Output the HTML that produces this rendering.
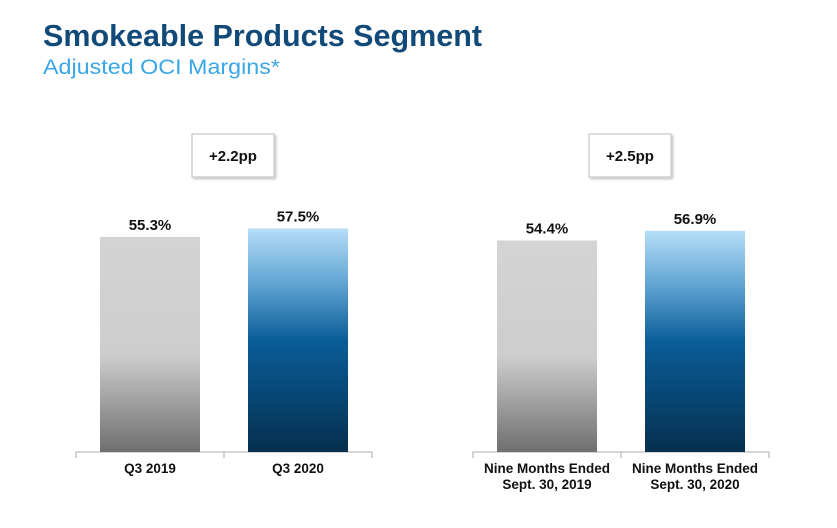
<!DOCTYPE html>
<html><head><meta charset="utf-8"><style>
body{margin:0;width:837px;height:523px;background:#fff;overflow:hidden;font-family:"Liberation Sans",Arial,sans-serif;}
</style></head><body>
<svg width="837" height="523" viewBox="0 0 837 523">
<defs>
<linearGradient id="gGray" x1="0" y1="0" x2="0" y2="1">
<stop offset="0" stop-color="#d4d4d4"/><stop offset="0.55" stop-color="#cdcdcd"/><stop offset="1" stop-color="#6f6f6f"/>
</linearGradient>
<linearGradient id="gBlue" x1="0" y1="0" x2="0" y2="1">
<stop offset="0" stop-color="#b6def8"/><stop offset="0.25" stop-color="#5fa3d2"/><stop offset="0.5" stop-color="#0a5d99"/><stop offset="1" stop-color="#06304f"/>
</linearGradient>
<filter id="sh" x="-20%" y="-20%" width="140%" height="140%"><feDropShadow dx="1.5" dy="1.5" stdDeviation="1.2" flood-color="#000" flood-opacity="0.25"/></filter>
</defs>
<text x="43" y="46" font-size="30.5" font-weight="bold" fill="#114a78" textLength="439" lengthAdjust="spacingAndGlyphs">Smokeable Products Segment</text>
<text x="43" y="74" font-size="21.5" fill="#3aa6e6" textLength="237" lengthAdjust="spacingAndGlyphs">Adjusted OCI Margins*</text>
<g id="plots"></g>
</svg>
<script>
const categoriesLeft = ["Q3 2019", "Q3 2020"];
const valuesLeft = [55.3, 57.5];
const categoriesRight = [["Nine Months Ended","Sept. 30, 2019"], ["Nine Months Ended","Sept. 30, 2020"]];
const valuesRight = [54.4, 56.9];
const changeLabels = ["+2.2pp", "+2.5pp"];

const NS = "http://www.w3.org/2000/svg";
const g = document.getElementById("plots");
const baseY = 452, pxPer = 3.888;
function yScale(v){ return baseY - v * pxPer; }
function mk(tag, attrs){ const e=document.createElementNS(NS,tag); for(const k in attrs) e.setAttribute(k,attrs[k]); g.appendChild(e); return e; }

function panel(x0, cats, vals, change, idx){
  const ax = mk("path",{d:`M${x0} ${baseY+6}V${baseY}H${x0+296}V${baseY+6}M${x0+148} ${baseY}V${baseY+6}`,stroke:"#bdbdbd","stroke-width":"1.3",fill:"none"});
  
  
  vals.forEach((v,i)=>{
    const bx = x0 + 24 + i*148, top = yScale(v);
    const r = mk("rect",{x:bx,y:top,width:100,height:baseY-top,fill:i===0?"url(#gGray)":"url(#gBlue)"});
    
    
    const t = mk("text",{x:bx+50,y:top-7,"text-anchor":"middle","font-size":"15","font-weight":"bold",fill:"#111"});
    t.textContent = v.toFixed(1)+"%";
    
    
    const lines = Array.isArray(cats[i]) ? cats[i] : [cats[i]];
    lines.forEach((ln,j)=>{
      const c = mk("text",{x:x0+74+i*148,y:baseY+21+j*16,"text-anchor":"middle","font-size":"13.5","font-weight":"bold",fill:"#111"});
      c.textContent = ln;
      
      
    });
  });
  const bx = x0 + 116;
  const box = mk("rect",{x:bx,y:134,width:82,height:43,fill:"#fff",stroke:"#c8c8c8","stroke-width":"1.2",filter:"url(#sh)"});
  
  
  const ct = mk("text",{x:bx+41,y:161,"text-anchor":"middle","font-size":"15","font-weight":"bold",fill:"#111"});
  ct.textContent = change;
  
  
}
panel(76, categoriesLeft, valuesLeft, changeLabels[0], 0);
panel(473, categoriesRight, valuesRight, changeLabels[1], 1);
</script>
</body></html>
